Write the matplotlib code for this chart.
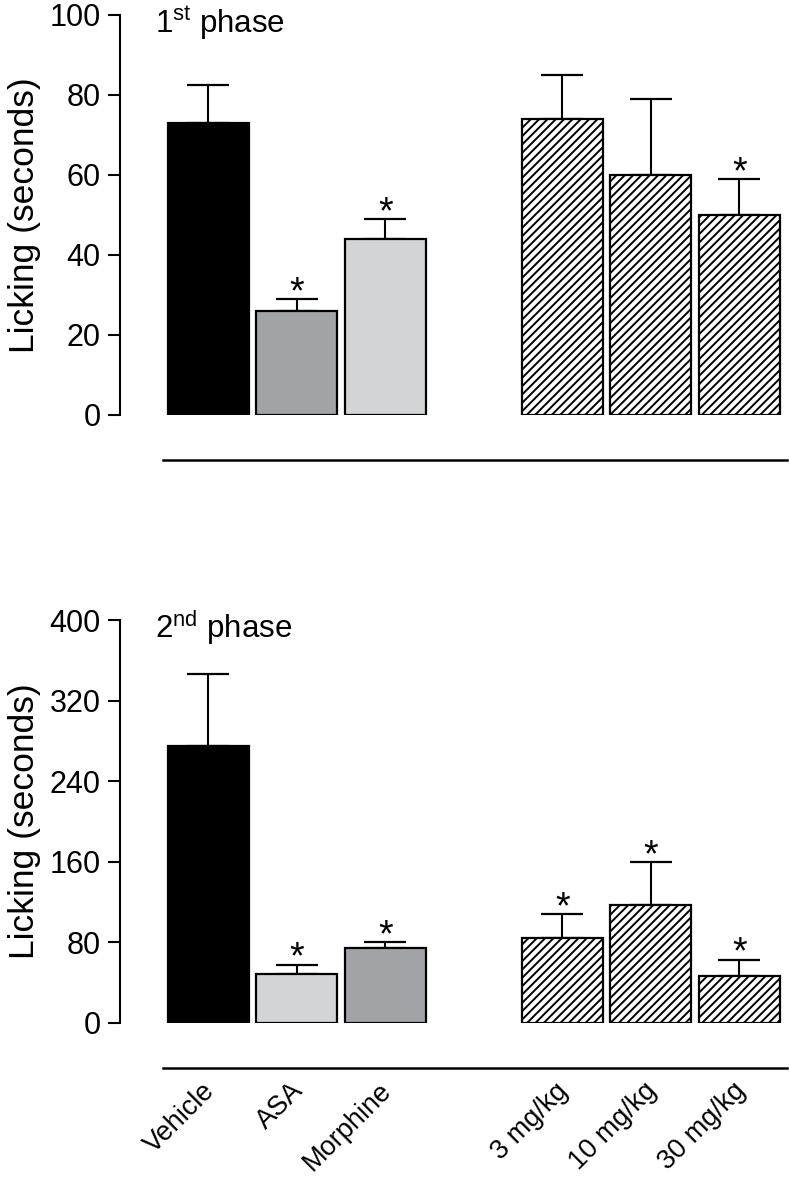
import numpy as np
import matplotlib
matplotlib.use('Agg')
import matplotlib.pyplot as plt
import matplotlib.transforms as mtransforms

plt.rcParams['font.family'] = ['Liberation Sans', 'DejaVu Sans']
plt.rcParams['mathtext.fontset'] = 'custom'
plt.rcParams['mathtext.rm'] = 'Liberation Sans'
plt.rcParams['hatch.linewidth'] = 1.4

groups = ['Vehicle', 'ASA', 'Morphine', '3 mg/kg', '10 mg/kg', '30 mg/kg']
positions = [0, 1, 2, 4, 5, 6]

# 1st phase
mean1 = [73, 26, 44, 74, 60, 50]
sem1 = [9.5, 3, 5, 11, 19, 9]
star1 = [False, True, True, False, False, True]
# 2nd phase
mean2 = [275, 49, 74, 84, 117, 47]
sem2 = [71, 9, 6, 24, 43, 16]
star2 = [False, True, True, True, True, True]

dark = '#a1a3a6'
light = '#d3d4d6'
colors1 = ['black', dark, light, 'white', 'white', 'white']
colors2 = ['black', light, dark, 'white', 'white', 'white']
hatches = [None, None, None, '////', '////', '////']

W, H = 789, 1181
fig = plt.figure(figsize=(W / 100, H / 100), dpi=100)


def panel(top_px, bot_px, means, sems, stars, colors, ymax, yticks, title):
    ax = fig.add_axes([120 / W, 1 - bot_px / H, 667 / W, (bot_px - top_px) / H])
    for p, m, c, h in zip(positions, means, colors, hatches):
        ax.bar(p, m, width=0.915, color=c, edgecolor='black', linewidth=1.6,
               hatch=h, zorder=2)
    ax.errorbar(positions, means, yerr=[np.zeros(len(sems)), sems], fmt='none',
                ecolor='black', elinewidth=1.5, capsize=15, capthick=1.6, zorder=1)
    for p, m, s, st in zip(positions, means, sems, stars):
        if st:
            ax.annotate('*', (p, m + s), xytext=(0, -3), textcoords='offset points',
                        ha='center', va='baseline', fontsize=27)
    ax.set_xlim(-1.0, 6.54)
    ax.set_ylim(0, ymax)
    ax.set_yticks(yticks)
    ax.tick_params(axis='y', labelsize=22, length=9, width=1.5, pad=5)
    ax.set_ylabel('Licking (seconds)', fontsize=25.5, labelpad=6)
    for s in ['top', 'right']:
        ax.spines[s].set_visible(False)
    ax.spines['left'].set_linewidth(1.5)
    ax.spines['bottom'].set_position(('outward', 32.5))
    ax.spines['bottom'].set_bounds(-0.514, 6.54)
    ax.spines['bottom'].set_linewidth(1.8)
    ax.patch.set_alpha(0)
    ax.text(0.052, 0.955, title, transform=ax.transAxes, fontsize=22.5,
            ha='left', va='baseline')
    return ax


ax1 = panel(15, 415, mean1, sem1, star1, colors1, 100, [0, 20, 40, 60, 80, 100],
            r'1$^{\rm st}$ phase')
ax1.set_xticks([])

ax2 = panel(620, 1023, mean2, sem2, star2, colors2, 400, [0, 80, 160, 240, 320, 400],
            r'2$^{\rm nd}$ phase')
ax2.set_xticks(positions)
ax2.set_xticklabels(groups, rotation=45, ha='right', va='top',
                    rotation_mode='anchor', fontsize=19.5)
ax2.tick_params(axis='x', length=0, pad=7)
shift = mtransforms.ScaledTranslation(-5 / 72, 0, fig.dpi_scale_trans)
for lab in ax2.get_xticklabels():
    lab.set_transform(lab.get_transform() + shift)

fig.savefig('out.png', dpi=100)
